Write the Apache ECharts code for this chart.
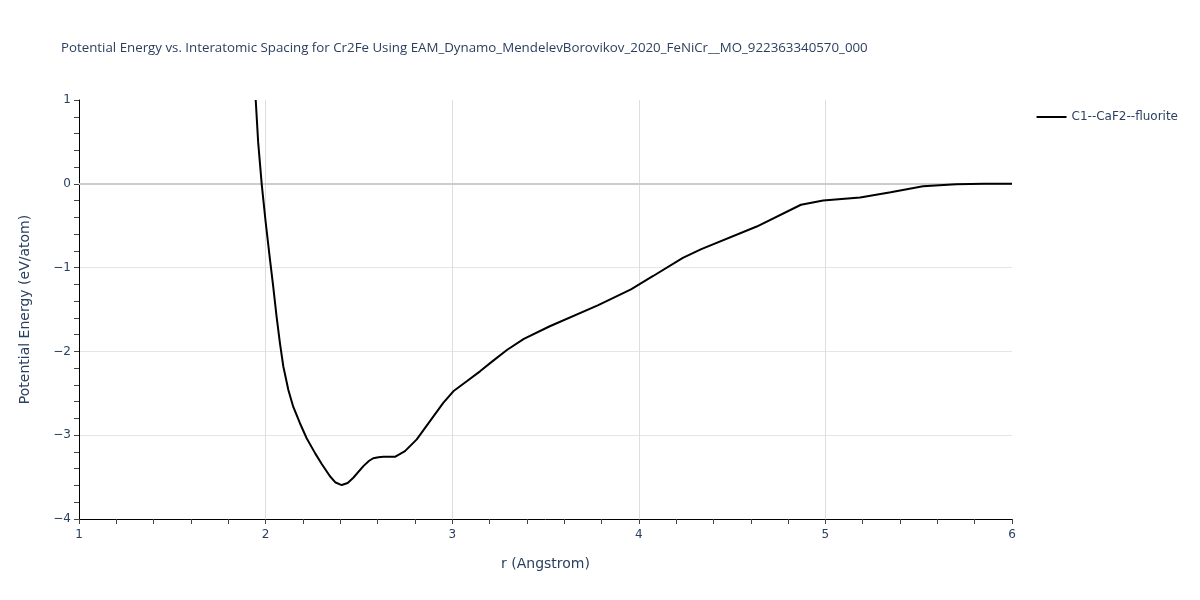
<!DOCTYPE html>
<html>
<head>
<meta charset="utf-8">
<script src="https://cdn.jsdelivr.net/npm/echarts@6/dist/echarts.min.js"></script>
<style>html,body{margin:0;padding:0;background:#fff}#c{width:1200px;height:600px}</style>
</head>
<body>
<div id="c"></div>
<script>
const seriesName = "C1--CaF2--fluorite";
const rValues = [1.947, 1.96, 1.979, 2.0, 2.024, 2.041, 2.059, 2.077, 2.095, 2.122, 2.148, 2.184, 2.220, 2.265, 2.300, 2.345, 2.375, 2.408, 2.440, 2.470, 2.524, 2.555, 2.577, 2.605, 2.631, 2.693, 2.747, 2.81, 2.881, 2.952, 3.006, 3.078, 3.149, 3.22, 3.295, 3.384, 3.523, 3.78, 3.958, 4.077, 4.236, 4.335, 4.632, 4.869, 4.988, 5.186, 5.35, 5.523, 5.70, 5.85, 6.0];
const energyValues = [1.0, 0.5, 0.0, -0.45, -0.913, -1.23, -1.587, -1.905, -2.18, -2.46, -2.66, -2.857, -3.036, -3.214, -3.34, -3.49, -3.565, -3.595, -3.57, -3.508, -3.369, -3.305, -3.275, -3.262, -3.258, -3.258, -3.19, -3.05, -2.833, -2.615, -2.476, -2.357, -2.238, -2.11, -1.98, -1.85, -1.70, -1.45, -1.26, -1.10, -0.885, -0.78, -0.51, -0.25, -0.20, -0.163, -0.10, -0.03, -0.004, 0.0, 0.0];
const xTicks = [1, 2, 3, 4, 5, 6];
const yTicks = [-4, -3, -2, -1, 0, 1];

const data = rValues.map((r, i) => [r, energyValues[i]]);
const font = "'Open Sans', 'Noto Sans', sans-serif";
const font2 = "'DejaVu Sans', Verdana, sans-serif";
const chart = echarts.init(document.getElementById('c'));
chart.setOption({
  animation: false,
  textStyle: { fontFamily: font },
  title: {
    text: "Potential Energy vs. Interatomic Spacing for Cr2Fe Using EAM_Dynamo_MendelevBorovikov_2020_FeNiCr__MO_922363340570_000",
    left: 56, top: 37,
    textStyle: { fontFamily: font, fontSize: 13.3, fontWeight: 'normal', color: '#2a3f5f' }
  },
  legend: {
    right: 17, top: 106, orient: 'vertical',
    itemWidth: 30, itemHeight: 2, itemGap: 6,
    textStyle: { fontFamily: font2, fontSize: 12, color: '#2a3f5f' },
    data: [seriesName]
  },
  grid: { left: 79, right: 188, top: 100, bottom: 81, containLabel: false },
  xAxis: {
    type: 'value', min: xTicks[0], max: xTicks[xTicks.length - 1], interval: 1,
    name: 'r (Angstrom)', nameLocation: 'middle', nameGap: 38,
    nameTextStyle: { fontFamily: font2, fontSize: 14, color: '#2a3f5f' },
    axisLine: { show: true, onZero: false, lineStyle: { color: '#000', width: 1 } },
    axisTick: { show: true, length: 5, inside: false, lineStyle: { color: '#444' } },
    minorTick: { show: true, splitNumber: 5, length: 5, lineStyle: { color: '#444' } },
    axisLabel: { fontFamily: font2, fontSize: 12, color: '#2a3f5f', margin: 10 },
    splitLine: { show: true, showMinLine: false, showMaxLine: false, lineStyle: { color: '#dedede', width: 1 } }
  },
  yAxis: {
    type: 'value', min: yTicks[0], max: yTicks[yTicks.length - 1], interval: 1,
    name: 'Potential Energy (eV/atom)', nameLocation: 'middle', nameGap: 47,
    nameTextStyle: { fontFamily: font2, fontSize: 14, color: '#2a3f5f' },
    axisLine: { show: true, onZero: false, lineStyle: { color: '#000', width: 1 } },
    axisTick: { show: true, length: 5, inside: false, lineStyle: { color: '#444' } },
    minorTick: { show: true, splitNumber: 5, length: 5, lineStyle: { color: '#444' } },
    axisLabel: { fontFamily: font2, fontSize: 12, color: '#2a3f5f', margin: 8,
      formatter: v => (v < 0 ? '\u2212' + Math.abs(v) : String(v)) },
    splitLine: { show: true, showMinLine: false, showMaxLine: false, lineStyle: { color: '#e5e5e5', width: 1 } }
  },
  series: [{
    name: seriesName,
    type: 'line',
    data: data,
    symbol: 'none',
    smooth: false,
    lineStyle: { color: '#000', width: 2 },
    itemStyle: { color: '#000' },
    z: 3,
    markLine: {
      silent: true, symbol: 'none', label: { show: false },
      lineStyle: { color: '#cccccc', width: 2, type: 'solid' },
      data: [{ yAxis: 0 }],
      z: 1
    }
  }]
});
</script>
</body>
</html>
